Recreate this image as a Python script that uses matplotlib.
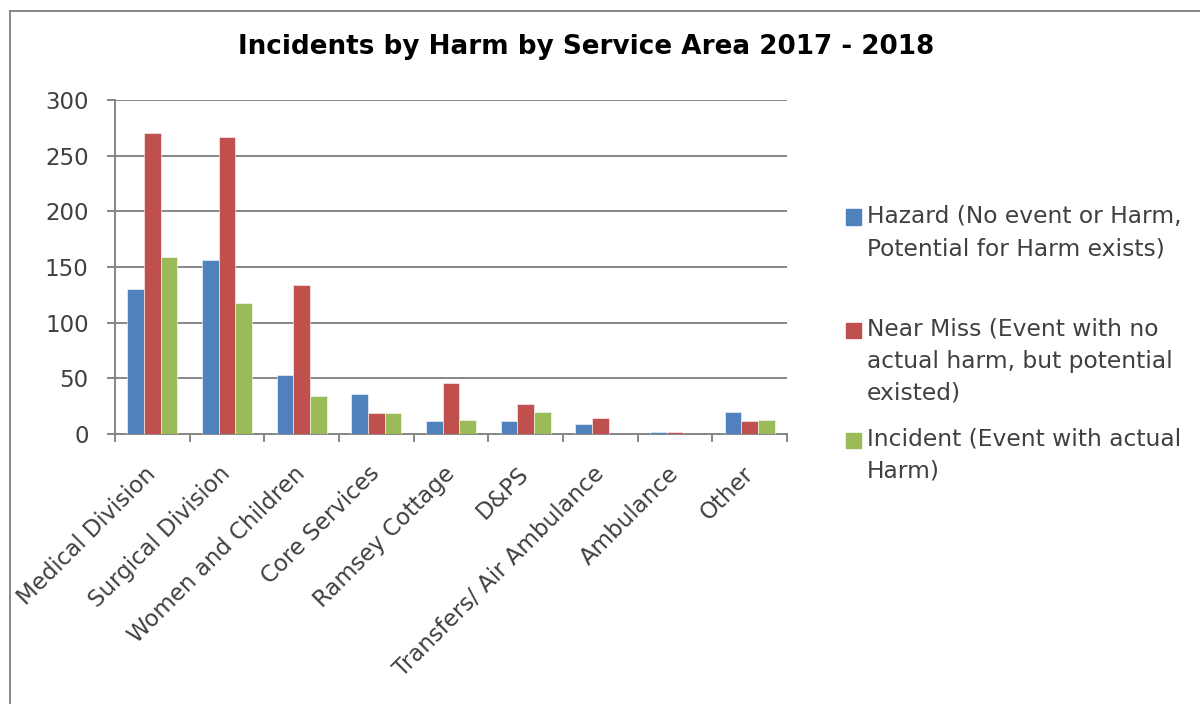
import matplotlib

matplotlib.use("Agg")
import matplotlib.pyplot as plt
import numpy as np
from matplotlib.lines import Line2D
from matplotlib.patches import Rectangle

categories = [
    "Medical Division",
    "Surgical Division",
    "Women and Children",
    "Core Services",
    "Ramsey Cottage",
    "D&PS",
    "Transfers/ Air Ambulance",
    "Ambulance",
    "Other",
]
hazard = [130, 156, 53, 36, 12, 12, 9, 2, 20]
near_miss = [270, 267, 134, 19, 46, 27, 14, 2, 12]
incident = [159, 118, 34, 19, 13, 20, 0, 0, 13]

series_labels = [
    "Hazard (No event or Harm,\nPotential for Harm exists)",
    "Near Miss (Event with no\nactual harm, but potential\nexisted)",
    "Incident (Event with actual\nHarm)",
]
colors = ["#4F81BD", "#C0504D", "#9BBB59"]
yticks = [0, 50, 100, 150, 200, 250, 300]

W, H = 1200, 704
text_c = "#404040"
grid_c = "#868686"
plt.rcParams["font.family"] = ["DejaVu Sans"]

fig = plt.figure(figsize=(W / 100, H / 100), dpi=100)
ax = fig.add_axes([115 / W, 1 - 434 / H, (787 - 115) / W, (434 - 100) / H])

x = np.arange(len(categories))
width = 0.223
for i, (vals, col) in enumerate(zip([hazard, near_miss, incident], colors)):
    ax.bar(x + (i - 1) * width, vals, width=width, color=col,
           edgecolor="white", linewidth=0.4, zorder=3)

ax.set_xlim(-0.5, len(categories) - 0.5)
ax.set_ylim(0, 300)
ax.set_yticks(yticks)
ax.set_yticklabels([str(v) for v in yticks], fontsize=16.5, color=text_c)
ax.yaxis.grid(True, color=grid_c, linewidth=1.4, zorder=0)
ax.set_axisbelow(True)
for s in ["top", "right"]:
    ax.spines[s].set_visible(False)
for s in ["left", "bottom"]:
    ax.spines[s].set_color(grid_c)
    ax.spines[s].set_linewidth(1.4)
ax.tick_params(axis="y", length=6, width=1.4, color=grid_c, pad=13)

ax.set_xticks(x)
ax.set_xticklabels(categories, fontsize=16.5, color=text_c, rotation=45,
                   ha="right", va="center", rotation_mode="anchor")
ax.set_xticks(np.arange(-0.5, len(categories)), minor=True)
ax.tick_params(axis="x", which="major", length=0, pad=26)
ax.tick_params(axis="x", which="minor", length=6, width=1.4, color=grid_c)

fig.text(586 / W, 1 - 47 / H, "Incidents by Harm by Service Area 2017 - 2018",
         ha="center", va="center", fontsize=18.9, fontweight="bold", color="black")

# legend drawn by hand to keep Excel's uneven spacing
leg_y = [217, 330, 440]
for lab, col, yy in zip(series_labels, colors, leg_y):
    fig.patches.append(Rectangle((846 / W, 1 - (yy + 7.5) / H), 15 / W, 15 / H,
                                 transform=fig.transFigure, color=col))
    fig.text(867 / W, 1 - (yy - 12) / H, lab, ha="left", va="top",
             fontsize=16.8, color=text_c, linespacing=1.5)

# outer chart border
fig.add_artist(Line2D([10 / W, 10 / W], [0, 1 - 11 / H], color=grid_c, lw=1.4))
fig.add_artist(Line2D([10 / W, 1], [1 - 11 / H, 1 - 11 / H], color=grid_c, lw=1.4))

fig.savefig("out.png", dpi=100)
